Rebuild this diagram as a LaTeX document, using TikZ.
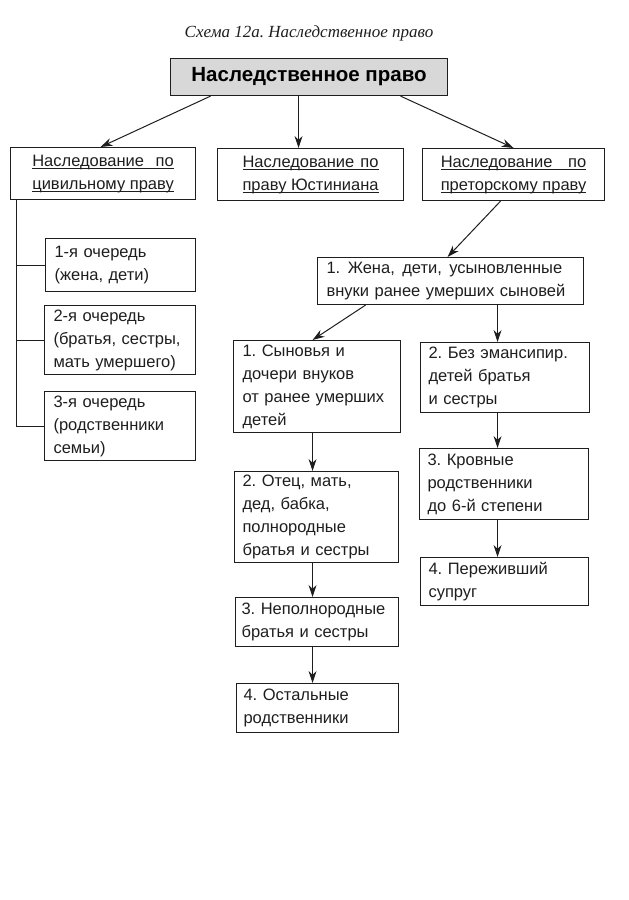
\documentclass[tikz,border=0pt]{standalone}
\usepackage{fontspec}
\setmainfont{Liberation Sans}
\newfontfamily\mytitlefont{Liberation Serif}
\usetikzlibrary{arrows.meta}
\definecolor{ink}{HTML}{1E1E1E}
\definecolor{topfill}{HTML}{D8D8D8}
\newsavebox\myulbx
\newlength\myulwd
\newcommand\myulbar[1]{\sbox\myulbx{#1}\rlap{\usebox\myulbx}\rule[-2.5pt]{\wd\myulbx}{0.9pt}}
\newcommand\mytwoul[2]{\settowidth\myulwd{#2}\myulbar{\makebox[\myulwd][s]{#1}}\\\myulbar{#2}}
\newcommand\mygap{\hskip 4.5pt plus 1fil\relax}
\frenchspacing
\tikzset{
  bx/.style={draw=ink, line width=1.1pt, anchor=north west, align=left, inner xsep=9pt, inner ysep=3pt,
    font=\fontsize{16.5}{23}\selectfont\frenchspacing, text=ink},
  hbx/.style={bx, align=center},
  topbx/.style={draw=ink, line width=1.1pt, fill=topfill, anchor=north west, align=center,
    font=\fontsize{20.5}{24}\selectfont\bfseries, text=black},
  arr/.style={draw=ink, line width=1pt, -{Stealth[length=12pt,width=8pt]}},
  conn/.style={draw=ink, line width=1pt}
}
\begin{document}
\begin{tikzpicture}[x=1pt,y=-1pt]
\useasboundingbox (0,0) rectangle (629,900);
\node[font=\mytitlefont\itshape\fontsize{17}{20}\selectfont, text=ink] (title) at (309,33) {Схема 12а. Наследственное право};
\node[topbx, minimum width=277pt, minimum height=37pt] (top) at (170,58) {Наследственное право};
% second level
\node[hbx, minimum width=185pt, minimum height=52pt] (L) at (10,147) {\mytwoul{Наследование по}{цивильному праву}};
\node[hbx, minimum width=186pt, minimum height=52pt] (M) at (217,148) {\mytwoul{Наследование по}{праву Юстиниана}};
\node[hbx, minimum width=182pt, minimum height=52pt] (R) at (422,148) {\mytwoul{Наследование по}{преторскому праву}};
% left column
\node[bx, minimum width=150pt, minimum height=53pt, text width=132pt] (l1) at (45,238) {1-я очередь\\(жена, дети)};
\node[bx, minimum width=151pt, minimum height=69pt, text width=133pt] (l2) at (44,305) {2-я очередь\\(братья, сестры,\\мать умершего)};
\node[bx, minimum width=151pt, minimum height=69pt, text width=133pt] (l3) at (44,391) {3-я очередь\\(родственники\\семьи)};
% praetorian
\node[bx, minimum width=266pt, minimum height=47pt, text width=248pt] (c1) at (317,257) {\settowidth\myulwd{внуки ранее умерших сыновей}\makebox[\myulwd][l]{1.\mygap Жена,\mygap дети,\mygap усыновленные}\\внуки ранее умерших сыновей};
\node[bx, minimum width=167pt, minimum height=92pt, text width=149pt, inner xsep=9pt] (ca) at (233,340) {1. Сыновья и\\дочери внуков\\от ранее умерших\\детей};
\node[bx, minimum width=164pt, minimum height=91pt, text width=148pt, inner xsep=8pt] (cb) at (234,471) {2. Отец, мать,\\дед, бабка,\\полнородные\\братья и сестры};
\node[bx, minimum width=163pt, minimum height=49pt, text width=151pt, inner xsep=6pt] (cc) at (235,597) {3. Неполнородные\\братья и сестры};
\node[bx, minimum width=162pt, minimum height=49pt, text width=148pt, inner xsep=7pt] (cd) at (236,683) {4. Остальные\\родственники};
\node[bx, minimum width=169pt, minimum height=70pt, text width=153pt, inner xsep=8pt] (ra) at (420,342) {2. Без эмансипир.\\детей братья\\и сестры};
\node[bx, minimum width=169pt, minimum height=71pt, text width=153pt, inner xsep=8pt] (rb) at (419,448) {3. Кровные\\родственники\\до 6-й степени};
\node[bx, minimum width=168pt, minimum height=48pt, text width=152pt, inner xsep=8pt] (rc) at (420,557) {4. Переживший\\супруг};
% arrows from top
\draw[arr] ([xshift=-98.5pt]top.south) -- ([xshift=-2.5pt]L.north);
\draw[arr] ([xshift=-10.5pt]top.south) -- ([xshift=-12pt]M.north);
\draw[arr] ([xshift=91.5pt]top.south) -- (R.north);
% left connector
\coordinate (lroot) at ([xshift=-86.5pt]L.south);
\draw[conn] (lroot) |- (l3.west);
\draw[conn] (lroot) |- (l1.west);
\draw[conn] (lroot) |- (l2.west);
% praetorian chain
\draw[arr] ([xshift=-13pt]R.south) -- ([xshift=-3pt]c1.north);
\draw[arr] ([xshift=-85pt]c1.south) -- ([xshift=-4.5pt]ca.north);
\draw[arr] ([xshift=47pt]c1.south) -- ([xshift=-7.5pt]ra.north);
\draw[arr] ([xshift=-7.5pt]ra.south) -- ([xshift=-6.5pt]rb.north);
\draw[arr] ([xshift=-6.5pt]rb.south) -- ([xshift=-7pt]rc.north);
\draw[arr] ([xshift=-4.5pt]ca.south) -- ([xshift=-4pt]cb.north);
\draw[arr] ([xshift=-4pt]cb.south) -- ([xshift=-4.5pt]cc.north);
\draw[arr] ([xshift=-4.5pt]cc.south) -- ([xshift=-5pt]cd.north);
\end{tikzpicture}
\end{document}
